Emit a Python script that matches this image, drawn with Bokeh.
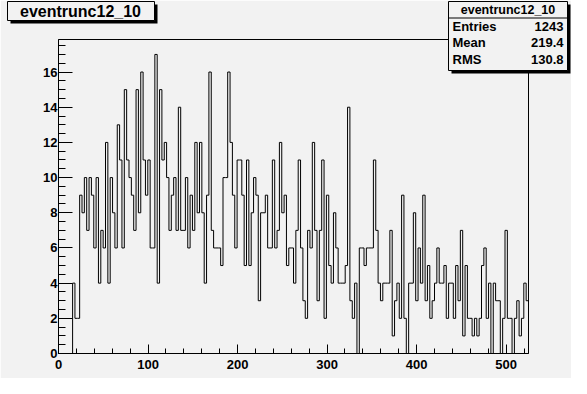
import numpy as np
from bokeh.plotting import figure
from bokeh.models import Range1d, SingleIntervalTicker
from bokeh.core.properties import value
from bokeh.embed import file_html
from bokeh.resources import INLINE

# ---------------- data ----------------
hist_name = "eventrunc12_10"
x_min, x_max, n_bins = 0, 525, 200
y_max = 17.85

counts_bins_000_049 = [0, 0, 0, 0, 0, 0,
                       4, 2, 2, 9, 8, 10, 7, 10, 9, 6, 10, 4, 7, 6, 12, 4, 10, 8, 6,
                       13, 11, 6, 15, 11, 10, 9, 7, 15, 8, 16, 11, 9, 11, 6, 6, 17, 4, 15,
                       11, 12, 10, 7, 9, 10]
counts_bins_050_099 = [7, 14, 7, 7, 10, 6, 9, 7, 12, 8, 12, 8, 4, 9, 16, 7, 6, 6, 6, 5,
                       10, 10, 16, 12, 9, 6, 11, 11, 9, 5, 11, 5,
                       8, 10, 9, 3, 8, 8, 9, 6, 6, 11, 6, 7, 12, 8, 9, 5, 6, 6]
counts_bins_100_149 = [4, 7, 11, 6, 3, 2, 7, 6, 12, 7, 3, 7, 11, 2, 9, 5, 4, 8, 6, 4, 4, 4,
                       5, 14, 3, 2, 4, 0, 6, 6, 5, 6, 6, 6, 11, 7, 4, 3, 4, 4, 4, 7,
                       1, 3, 4, 2, 9, 2, 0, 4]
counts_bins_150_199 = [4, 8, 3, 6, 4, 9, 3, 5, 2,
                       3, 4, 6, 4, 4, 5, 2, 4, 4, 2, 5, 3, 7, 1, 5, 2, 2, 1, 2, 1, 2,
                       5, 6, 2, 4, 0, 4, 3, 3, 0, 2, 7, 2, 2, 0, 2, 3, 1, 2, 4, 3]

stat_names = ["Entries", "Mean", "RMS"]
stat_values = ["1243", "219.4", "130.8"]

x_tick_interval = 100
y_tick_interval = 2

# ---------------- layout / style ----------------
W, H = 571, 378
BL, BR, BT, BB = 58, 43, 39, 25
BG = "#f2f2f2"
FONT = "Liberation Sans"

p = figure(width=W, height=H, output_backend="svg", toolbar_location=None,
           x_range=Range1d(x_min, x_max), y_range=Range1d(0, y_max),
           min_border_left=BL, min_border_right=BR,
           min_border_top=BT, min_border_bottom=BB,
           background_fill_color=BG, border_fill_color=BG,
           outline_line_color="black", outline_line_width=1)
p.grid.visible = False

p.xaxis.ticker = SingleIntervalTicker(interval=x_tick_interval, num_minor_ticks=5)
p.yaxis.ticker = SingleIntervalTicker(interval=y_tick_interval, num_minor_ticks=4)
for ax in p.axis:
    ax.major_tick_out = 0
    ax.minor_tick_out = 0
    ax.axis_line_color = "black"
    ax.major_tick_line_color = "black"
    ax.minor_tick_line_color = "black"
    ax.major_label_text_font = FONT
    ax.major_label_text_font_style = "bold"
    ax.major_label_text_font_size = "13px"
    ax.major_label_text_color = "black"
p.xaxis.major_tick_in = 9
p.xaxis.minor_tick_in = 5
p.yaxis.major_tick_in = 14
p.yaxis.minor_tick_in = 7
p.xaxis.major_label_standoff = 6
p.yaxis.major_label_standoff = 1

# ---------------- histogram ----------------
counts = counts_bins_000_049 + counts_bins_050_099 + counts_bins_100_149 + counts_bins_150_199
edges = np.linspace(x_min, x_max, n_bins + 1)
p.step(x=edges, y=counts + [0], mode="after", line_color="black", line_width=1)

# ---------------- paves (positions given in canvas pixels) ----------------
FW = W - BL - BR
FH = H - BT - BB


def dx(px):
    return (px - BL) * (x_max - x_min) / FW + x_min


def dy(py):
    return (H - BB - py) * y_max / FH


def pave(l, t, r, b, shadow=3):
    p.quad(left=[dx(l + shadow)], right=[dx(r + shadow)],
           top=[dy(t + shadow)], bottom=[dy(b + shadow)],
           fill_color="black", line_alpha=0, level="overlay")
    p.quad(left=[dx(l)], right=[dx(r)], top=[dy(t)], bottom=[dy(b)],
           fill_color=BG, line_color="black", line_width=1, level="overlay")


def text(px, py, s, size, align="left"):
    p.text(x=[dx(px)], y=[dy(py)], text=[s], text_align=align,
           text_baseline="middle", text_font=value(FONT),
           text_font_style="bold", text_font_size=value(size),
           text_color="black", level="overlay")


# title pave
pave(7, 1, 154, 20, shadow=3)
text(80, 10.5, hist_name, "16px", "center")

# stats pave
sl, st, sr, sb = 448, 1, 567, 70
pave(sl, st, sr, sb, shadow=3)
text((sl + sr) / 2, st + 8.5, hist_name, "12.5px", "center")
p.quad(left=[dx(sl)], right=[dx(sr)], top=[dy(st + 16)], bottom=[dy(st + 17)],
       fill_color="black", line_alpha=0, level="overlay")
for i, (n, v) in enumerate(zip(stat_names, stat_values)):
    yy = st + 24.5 + 16.5 * i
    text(sl + 4, yy, n, "13px", "left")
    text(sr - 4, yy, v, "13px", "right")

open("out.html", "w").write(file_html(p, INLINE))
